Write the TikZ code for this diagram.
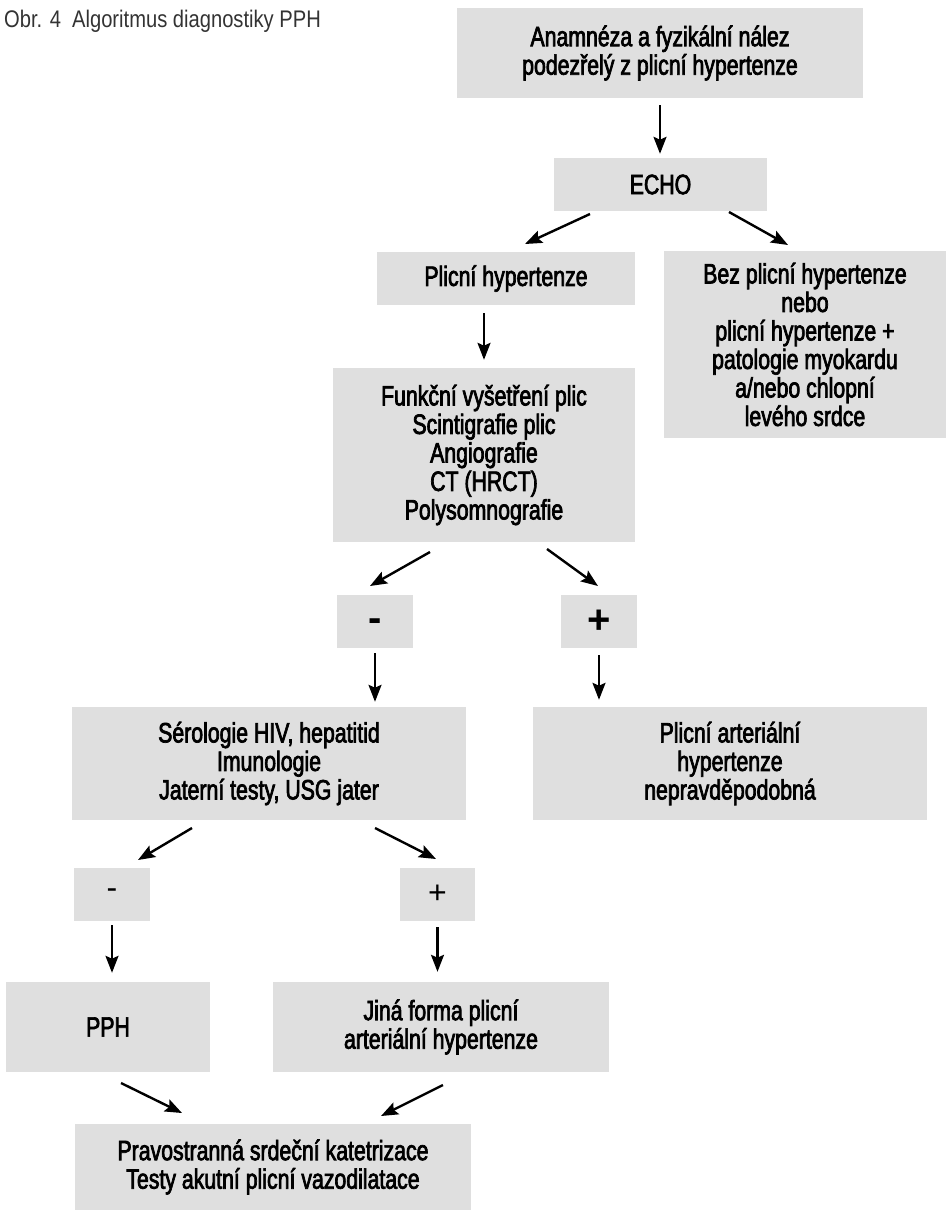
\documentclass[tikz,border=0pt]{standalone}
\usepackage{fontspec}
\setmainfont{Liberation Sans}[FakeStretch=0.76,FakeBold=2.5]
\newfontfamily\titlefont{Liberation Sans}[FakeStretch=0.84]
\newfontfamily\signfont{Liberation Sans}
\usetikzlibrary{arrows.meta}
\definecolor{boxgray}{RGB}{223,223,223}
\tikzset{
  box/.style={fill=boxgray, draw=none, align=center, inner sep=0pt,
    font=\fontsize{28}{28.5}\selectfont},
  arr/.style={-{Stealth[length=17pt,width=13pt,inset=3pt]}, line width=2.4pt},
  signbig/.style={box, font=\signfont\bfseries\fontsize{40}{40}\selectfont},
  signsmall/.style={box, font=\signfont\fontsize{32}{32}\selectfont},
  titletext/.style={font=\titlefont\fontsize{24}{28}\selectfont, text=black!80, inner sep=0pt, anchor=base west}
}
\begin{document}
\begin{tikzpicture}[x=1pt,y=-1pt]
\useasboundingbox (0,0) rectangle (946,1211);

\node[titletext] (title) at (4,27) {Obr. 4\ \ Algoritmus diagnostiky PPH};

\node[box, minimum width=406pt, minimum height=90pt] (A) at (660,53)
  {Anamnéza a fyzikální nález\\podezřelý z plicní hypertenze};
\node[box, minimum width=213pt, minimum height=53pt] (B) at (660.5,184.5) {ECHO};
\node[box, minimum width=258pt, minimum height=53pt] (C) at (506,278.5) {Plicní hypertenze};
\node[box, minimum width=282pt, minimum height=187pt] (D) at (805,344.5)
  {Bez plicní hypertenze\\nebo\\plicní hypertenze +\\patologie myokardu\\a/nebo chlopní\\levého srdce};
\node[box, minimum width=302pt, minimum height=174pt] (E) at (484,455)
  {Funkční vyšetření plic\\Scintigrafie plic\\Angiografie\\CT (HRCT)\\Polysomnografie};
\node[signbig, minimum width=76pt, minimum height=53pt] (F) at (375,621.5) {\smash{\raisebox{-10pt}{-}}};
\node[signbig, minimum width=76pt, minimum height=53pt] (G) at (599,621.5) {+};
\node[box, minimum width=394pt, minimum height=113pt] (H) at (269,763.5)
  {Sérologie HIV, hepatitid\\Imunologie\\Jaterní testy, USG jater};
\node[box, minimum width=394pt, minimum height=113pt] (I) at (730,763.5)
  {Plicní arteriální\\hypertenze\\nepravděpodobná};
\node[signsmall, minimum width=76pt, minimum height=53pt] (J) at (112,894.5) {\smash{\raisebox{-4pt}{-}}};
\node[signsmall, minimum width=75pt, minimum height=53pt] (K) at (437.5,894.5) {+};
\node[box, minimum width=204pt, minimum height=90pt] (L) at (108,1027) {PPH};
\node[box, minimum width=336pt, minimum height=90pt] (M) at (441,1027)
  {Jiná forma plicní\\arteriální hypertenze};
\node[box, minimum width=396pt, minimum height=86pt] (N) at (273,1167)
  {Pravostranná srdeční katetrizace\\Testy akutní plicní vazodilatace};

% diagonal arrow end points
\coordinate (BCs) at (590,214);  \coordinate (BCe) at (525,244);
\coordinate (BDs) at (729,212);  \coordinate (BDe) at (788,245);
\coordinate (EFs) at (430,552);  \coordinate (EFe) at (370,586);
\coordinate (EGs) at (547,549);  \coordinate (EGe) at (598,586);
\coordinate (HJs) at (192,828);  \coordinate (HJe) at (138,860);
\coordinate (HKs) at (375,828);  \coordinate (HKe) at (436,859);
\coordinate (LNs) at (121,1083); \coordinate (LNe) at (182,1113);
\coordinate (MNs) at (443,1085); \coordinate (MNe) at (381,1116);

\draw[arr, shorten <=7pt, shorten >=4pt] (A.south) -- (A.south |- B.north);
\draw[arr] (BCs) -- (BCe);
\draw[arr] (BDs) -- (BDe);
\draw[arr, shorten <=8pt, shorten >=8pt] (C.south -| E.north) -- (E.north);
\draw[arr] (EFs) -- (EFe);
\draw[arr] (EGs) -- (EGe);
\draw[arr, shorten <=5pt, shorten >=5pt] (F.south) -- (F.south |- H.north);
\draw[arr, shorten <=7pt, shorten >=7pt] (G.south) -- (G.south |- I.north);
\draw[arr] (HJs) -- (HJe);
\draw[arr] (HKs) -- (HKe);
\draw[arr, shorten <=4pt, shorten >=9pt] (J.south) -- (J.south |- L.north);
\draw[arr, shorten <=6pt, shorten >=10pt] (K.south) -- (K.south |- M.north);
\draw[arr] (LNs) -- (LNe);
\draw[arr] (MNs) -- (MNe);
\end{tikzpicture}
\end{document}
